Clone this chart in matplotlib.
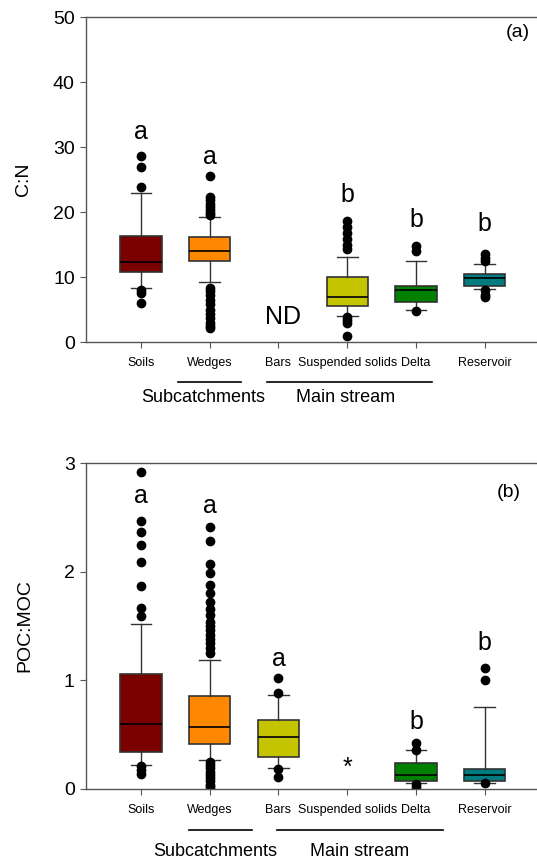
import matplotlib
matplotlib.use("Agg")
import matplotlib.pyplot as plt
from matplotlib.transforms import blended_transform_factory

plt.rcParams['font.family'] = ['Liberation Sans', 'DejaVu Sans']

categories = ["Soils", "Wedges", "Bars", "Suspended solids", "Delta", "Reservoir"]
colors = ["#7b0000", "#ff8800", "#c4c400", "#c4c400", "#008000", "#007b80"]

# ---- Panel (a) C:N  (None = not determined)
cn_q1 = [10.8, 12.46, None, 5.54, 6.1, 8.56]
cn_med = [12.25, 14.0, None, 6.87, 8.0, 9.84]
cn_q3 = [16.35, 16.2, None, 10.05, 8.66, 10.4]
cn_whislo = [8.36, 9.18, None, 4.05, 5.0, 8.2]
cn_whishi = [22.9, 19.3, None, 13.07, 12.4, 11.95]
cn_fliers = [
    [28.6, 27.0, 23.8, 8.0, 7.6, 5.95],
    [25.5, 22.3, 21.8, 21.3, 20.8, 20.3, 19.8, 19.5,
     8.3, 7.8, 7.2, 6.5, 5.8, 5.0, 4.3, 3.7, 3.0, 2.5, 2.1],
    [],
    [18.66, 17.7, 16.7, 15.8, 15.0, 14.26, 3.9, 3.4, 2.9, 0.92],
    [14.8, 14.0, 4.8],
    [13.5, 12.9, 12.4, 8.0, 7.3, 7.0],
]
cn_letters = ["a", "a", "", "b", "b", "b"]
cn_letter_y = [32.3, 28.4, 0, 22.6, 18.7, 18.1]

# ---- Panel (b) POC:MOC
poc_q1 = [0.34, 0.41, 0.297, None, 0.074, 0.076]
poc_med = [0.595, 0.57, 0.476, None, 0.129, 0.129]
poc_q3 = [1.061, 0.856, 0.635, None, 0.236, 0.187]
poc_whislo = [0.224, 0.27, 0.196, None, 0.058, 0.058]
poc_whishi = [1.52, 1.19, 0.862, None, 0.36, 0.755]
poc_fliers = [
    [2.92, 2.47, 2.365, 2.245, 2.087, 1.87, 1.67, 1.59, 0.21, 0.175, 0.138],
    [2.41, 2.285, 2.07, 1.99, 1.88, 1.80, 1.72, 1.66, 1.60, 1.54, 1.50, 1.46,
     1.42, 1.38, 1.34, 1.30, 1.25,
     0.25, 0.22, 0.19, 0.16, 0.13, 0.10, 0.07, 0.04, 0.02],
    [1.02, 0.886, 0.18, 0.113],
    [],
    [0.426, 0.36, 0.046, 0.02],
    [1.11, 1.00, 0.052],
]
poc_letters = ["a", "a", "a", "", "b", "b"]
poc_letter_y = [2.70, 2.60, 1.20, 0, 0.62, 1.34]

group_labels = ["Subcatchments", "Main stream"]

fig = plt.figure(figsize=(5.37, 8.6), dpi=100)
ax1 = fig.add_axes([0.160, 0.6023, 0.840, 0.3779])
ax2 = fig.add_axes([0.160, 0.0826, 0.840, 0.3790])

positions = list(range(1, len(categories) + 1))
axis_col = "#555555"


def draw(ax, q1, med, q3, lo, hi, fl, letters, ly):
    stats, pos, cols = [], [], []
    for i in range(len(categories)):
        if med[i] is None:
            continue
        stats.append(dict(med=med[i], q1=q1[i], q3=q3[i], whislo=lo[i],
                          whishi=hi[i], fliers=fl[i]))
        pos.append(positions[i])
        cols.append(colors[i])
    bp = ax.bxp(stats, positions=pos, widths=0.6, patch_artist=True,
                showfliers=True,
                boxprops=dict(edgecolor="#333333", linewidth=1.2),
                medianprops=dict(color="black", linewidth=1.2),
                whiskerprops=dict(color="#333333", linewidth=1.0),
                capprops=dict(color="#333333", linewidth=1.0),
                capwidths=0.3,
                flierprops=dict(marker="o", markerfacecolor="black",
                                markeredgecolor="black", markersize=6,
                                linestyle="none"))
    for patch, c in zip(bp["boxes"], cols):
        patch.set_facecolor(c)
    for i, t in enumerate(letters):
        if t:
            ax.text(positions[i], ly[i], t, ha="center", va="center",
                    fontsize=18)
    ax.set_xlim(0.2, 6.76)
    ax.set_xticks(positions)
    ax.set_xticklabels(categories, fontsize=9)
    ax.tick_params(axis="x", length=4, color=axis_col, pad=7)
    ax.tick_params(axis="y", length=4, color=axis_col, labelsize=14, pad=4)
    for s in ["left", "bottom", "top"]:
        ax.spines[s].set_color(axis_col)
        ax.spines[s].set_linewidth(1.0)
    ax.spines["right"].set_visible(False)


draw(ax1, cn_q1, cn_med, cn_q3, cn_whislo, cn_whishi, cn_fliers,
     cn_letters, cn_letter_y)
ax1.set_ylim(0, 50)
ax1.set_yticks([0, 10, 20, 30, 40, 50])
ax1.set_ylabel("C:N", fontsize=14, labelpad=15)
ax1.text(3.07, 3.9, "ND", ha="center", va="center", fontsize=18)
ax1.text(0.985, 0.951, "(a)", transform=ax1.transAxes, ha="right",
         va="center", fontsize=14)

draw(ax2, poc_q1, poc_med, poc_q3, poc_whislo, poc_whishi, poc_fliers,
     poc_letters, poc_letter_y)
ax2.set_ylim(0, 3)
ax2.set_yticks([0, 1, 2, 3])
ax2.set_ylabel("POC:MOC", fontsize=14, labelpad=22)
ax2.text(4, 0.19, "*", ha="center", va="center", fontsize=18)
ax2.text(0.965, 0.911, "(b)", transform=ax2.transAxes, ha="right",
         va="center", fontsize=14)


def groups(ax, sub_x, main_x, sub_tx, main_tx, line_y, text_y):
    tr = blended_transform_factory(ax.transData, ax.transAxes)
    ax.plot(sub_x, [line_y, line_y], color="black", lw=1.2, transform=tr,
            clip_on=False)
    ax.plot(main_x, [line_y, line_y], color="black", lw=1.2, transform=tr,
            clip_on=False)
    ax.text(sub_tx, text_y, group_labels[0], transform=tr, ha="center",
            va="center", fontsize=13)
    ax.text(main_tx, text_y, group_labels[1], transform=tr, ha="center",
            va="center", fontsize=13)


groups(ax1, [1.54, 2.45], [2.83, 5.24], 1.90, 3.98, -0.123, -0.172)
groups(ax2, [1.70, 2.61], [2.98, 5.39], 2.08, 4.18, -0.126, -0.193)

fig.savefig("out.png", dpi=100)
